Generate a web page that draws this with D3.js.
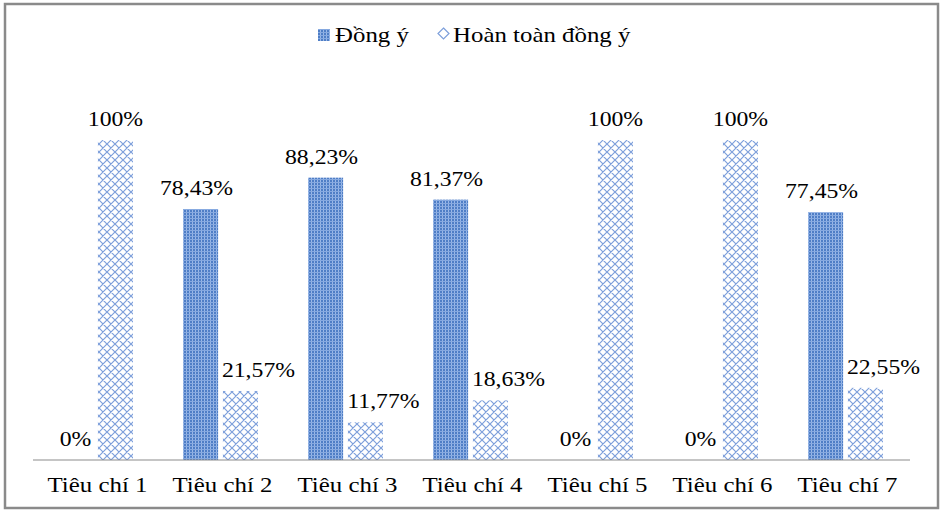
<!DOCTYPE html>
<html><head><meta charset="utf-8">
<script src="https://cdn.jsdelivr.net/npm/d3@7"></script>
<style>body{margin:0;background:#fff}svg{display:block}</style>
</head><body>
<svg id="c" width="944" height="515"></svg>
<script>
const categories = ["Tiêu chí 1","Tiêu chí 2","Tiêu chí 3","Tiêu chí 4","Tiêu chí 5","Tiêu chí 6","Tiêu chí 7"];
const seriesNames = ["Đồng ý","Hoàn toàn đồng ý"];
const dongY = [0, 78.43, 88.23, 81.37, 0, 0, 77.45];
const hoanToan = [100, 21.57, 11.77, 18.63, 100, 100, 22.55];
const labelsDongY = ["0%","78,43%","88,23%","81,37%","0%","0%","77,45%"];
const labelsHoanToan = ["100%","21,57%","11,77%","18,63%","100%","100%","22,55%"];

const svg = d3.select("#c");
const font = "'Liberation Serif','Times New Roman',serif";
const stretch = "scale(1.13,1)";
const defs = svg.append("defs");
const p1 = defs.append("pattern").attr("id","pDong").attr("patternUnits","userSpaceOnUse").attr("width",3).attr("height",3);
p1.append("rect").attr("width",3).attr("height",3).attr("fill","#4f7ec6");
p1.append("rect").attr("x",2).attr("y",0).attr("width",1).attr("height",3).attr("fill","#9bb8e6");
p1.append("rect").attr("x",0).attr("y",2).attr("width",3).attr("height",1).attr("fill","#86a9e0");
const p2 = defs.append("pattern").attr("id","pHoan").attr("patternUnits","userSpaceOnUse").attr("width",8).attr("height",8);
p2.append("rect").attr("width",8).attr("height",8).attr("fill","#fff");
p2.append("path").attr("d","M0,0L8,8M8,0L0,8M-1,7L1,9M7,-1L9,1M-1,1L1,-1M7,9L9,7").attr("stroke","#7d9fdb").attr("stroke-width",1.2).attr("fill","none");

svg.append("rect").attr("x",5).attr("y",4).attr("width",933).attr("height",504)
  .attr("fill","none").attr("stroke","#8a8a8a").attr("stroke-width",2.5);

const x = d3.scaleBand().domain(categories).range([35,910]).paddingInner(0).paddingOuter(0);
const y = d3.scaleLinear().domain([0,100]).range([460,140]);
const xs = d3.scaleBand().domain(seriesNames).range([23,23+75]).paddingInner(9/75).paddingOuter(0);

const data = categories.map((c,i)=>({c, vals:[
  {s:seriesNames[0], v:dongY[i], l:labelsDongY[i], f:"url(#pDong)"},
  {s:seriesNames[1], v:hoanToan[i], l:labelsHoanToan[i], f:"url(#pHoan)"}]}));

const g = svg.append("g");
const groups = g.selectAll("g.cat").data(data).join("g").attr("transform",d=>`translate(${x(d.c)},0)`);
groups.selectAll("rect").data(d=>d.vals).join("rect")
  .attr("x",d=>xs(d.s)).attr("width",xs.bandwidth())
  .attr("y",d=>y(d.v)).attr("height",d=>y(0)-y(d.v)).attr("fill",d=>d.f);
groups.selectAll("text").data(d=>d.vals).join("text")
  .attr("transform",d=>{
    const cx = xs(d.s)+xs.bandwidth()/2 + (d.s===seriesNames[1] && d.v<50 ? 18 : (d.s===seriesNames[0] && d.v>0 ? -4 : 0));
    return `translate(${cx},${y(d.v)-14}) ${stretch}`;})
  .attr("text-anchor","middle").attr("font-family",font).attr("font-size",21).attr("fill","#000")
  .text(d=>d.l);

const ax = svg.append("g").attr("transform","translate(0,460)")
  .call(d3.axisBottom(x).tickSize(0).tickPadding(16));
ax.select(".domain").attr("stroke","#8c8c8c").attr("stroke-width",1.2).attr("d","M33,0H910");
ax.selectAll("text").attr("font-family",font).attr("font-size",22).attr("fill","#000").attr("transform",stretch);

const leg = svg.append("g");
leg.append("rect").attr("x",318).attr("y",29).attr("width",12).attr("height",12).attr("fill","url(#pDong)");
leg.append("text").attr("transform",`translate(335,42) ${stretch}`).attr("font-family",font).attr("font-size",22).text(seriesNames[0]);
leg.append("path").attr("d","M443.5,28L449,33.5L443.5,39L438,33.5Z").attr("fill","#fff").attr("stroke","#7d9fdb").attr("stroke-width",1.2);
leg.append("text").attr("transform",`translate(453,42) ${stretch}`).attr("font-family",font).attr("font-size",22).text(seriesNames[1]);
</script>
</body></html>
